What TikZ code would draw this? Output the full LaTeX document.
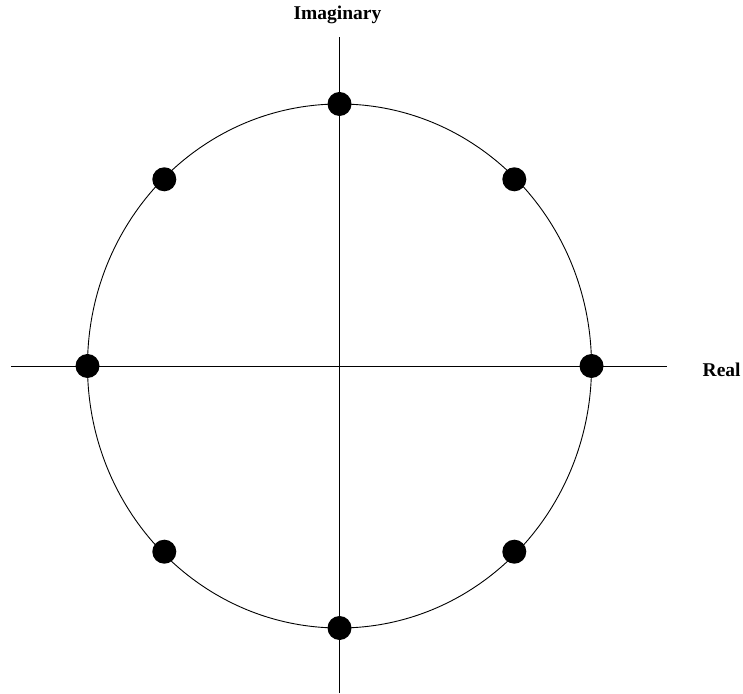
\documentclass[tikz,border=0pt]{standalone}
\usepackage{fontspec}
\setmainfont{Liberation Serif}
\begin{document}
\begin{tikzpicture}[x=1pt,y=1pt,
  dotnode/.style={circle,fill=black,inner sep=0pt,minimum size=24pt},
  axisline/.style={line width=0.9pt},
  lbl/.style={font=\fontsize{19.5}{22}\selectfont\bfseries,inner sep=0pt}]
\useasboundingbox (0,0) rectangle (743,693);
\coordinate (c) at (339.5,327);
\draw[line width=0.9pt] (c) ellipse [x radius=252, y radius=262];
\coordinate (xl) at (11,327);
\coordinate (xr) at (667,327);
\coordinate (yt) at (339.5,656);
\coordinate (yb) at (339.5,0);
\draw[axisline] (xl) -- (xr);
\draw[axisline] (yb) -- (yt);
\node[dotnode] (p0) at (591.5,327) {};
\node[dotnode] (p1) at (514.3,513.7) {};
\node[dotnode] (p2) at (339.5,589) {};
\node[dotnode] (p3) at (164.3,513.7) {};
\node[dotnode] (p4) at (87.5,327) {};
\node[dotnode] (p5) at (164.3,141.3) {};
\node[dotnode] (p6) at (339.5,65) {};
\node[dotnode] (p7) at (514.3,141.3) {};
\node[lbl,anchor=base] (im) at (337.5,673.7) {Imaginary};
\node[lbl,anchor=base west] (re) at (702.5,316.3) {Real};
\end{tikzpicture}
\end{document}
